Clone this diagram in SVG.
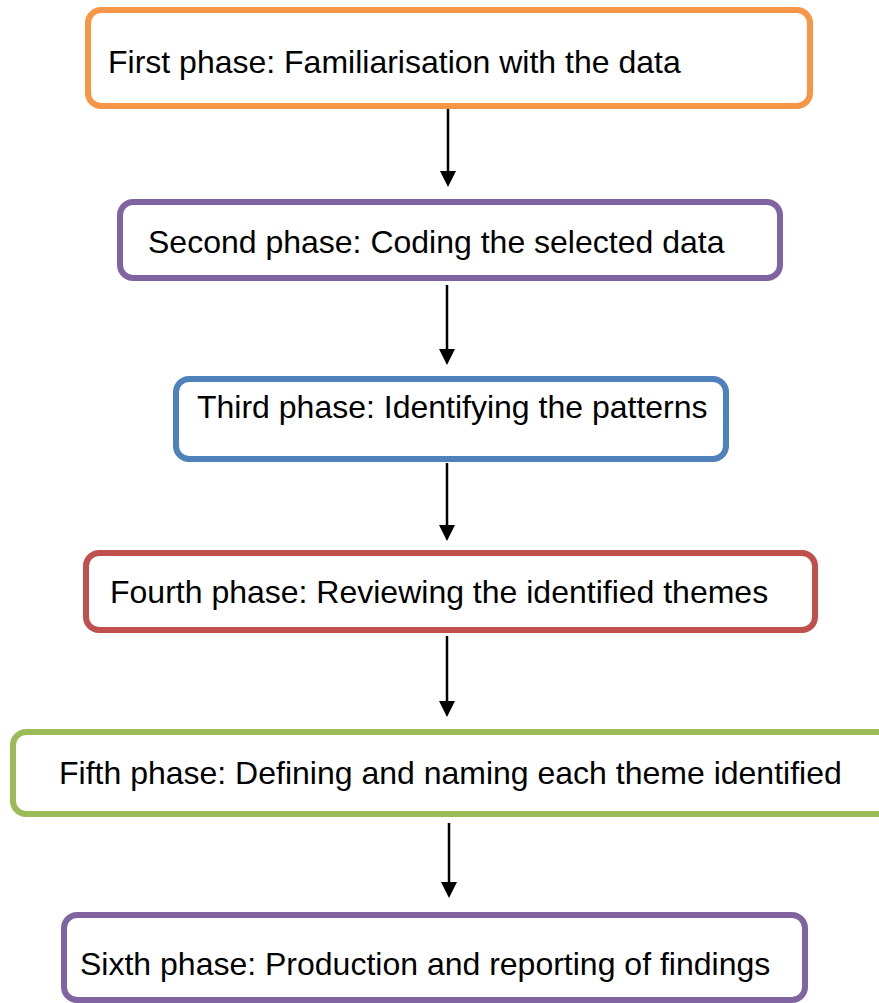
<svg xmlns="http://www.w3.org/2000/svg" width="879" height="1003" viewBox="0 0 879 1003">
  <defs>
    <style>
      .box { fill: #ffffff; stroke-width: 6; }
      .label { font-family: "Liberation Sans", Arial, sans-serif; font-size: 32px; fill: #000000; }
      .conn { stroke: #000000; stroke-width: 2.5; fill: none; }
      .head { fill: #000000; }
    </style>
  </defs>
  <rect width="879" height="1003" fill="#ffffff"/>

  <g id="connectors">
    <line class="conn" x1="448" y1="109" x2="448" y2="172"/>
    <polygon class="head" points="440,171 456,171 448,187"/>
    <line class="conn" x1="447" y1="285" x2="447" y2="350"/>
    <polygon class="head" points="439,349 455,349 447,365"/>
    <line class="conn" x1="447" y1="463" x2="447" y2="526"/>
    <polygon class="head" points="439,525 455,525 447,541"/>
    <line class="conn" x1="447" y1="636" x2="447" y2="702"/>
    <polygon class="head" points="439,701 455,701 447,717"/>
    <line class="conn" x1="449" y1="823" x2="449" y2="883"/>
    <polygon class="head" points="441,882 457,882 449,898"/>
  </g>

  <g id="phase1">
    <rect class="box" x="88" y="10" width="722" height="96" rx="13" stroke="#F79646"/>
    <text class="label" x="108" y="73">First phase: Familiarisation with the data</text>
  </g>

  <g id="phase2">
    <rect class="box" x="120" y="202" width="660" height="76" rx="13" stroke="#8064A2"/>
    <text class="label" x="148" y="253">Second phase: Coding the selected data</text>
  </g>

  <g id="phase3">
    <rect class="box" x="176" y="379" width="550" height="80" rx="13" stroke="#4F81BD"/>
    <text class="label" x="197" y="418">Third phase: Identifying the patterns</text>
  </g>

  <g id="phase4">
    <rect class="box" x="86" y="553" width="729" height="77" rx="13" stroke="#C0504D"/>
    <text class="label" x="110" y="603">Fourth phase: Reviewing the identified themes</text>
  </g>

  <g id="phase5">
    <rect class="box" x="13" y="732" width="880" height="82" rx="13" stroke="#9BBB59"/>
    <text class="label" x="59" y="784">Fifth phase: Defining and naming each theme identified</text>
  </g>

  <g id="phase6">
    <rect class="box" x="64" y="915" width="741" height="85" rx="13" stroke="#8064A2"/>
    <text class="label" x="80" y="975">Sixth phase: Production and reporting of findings</text>
  </g>
</svg>
